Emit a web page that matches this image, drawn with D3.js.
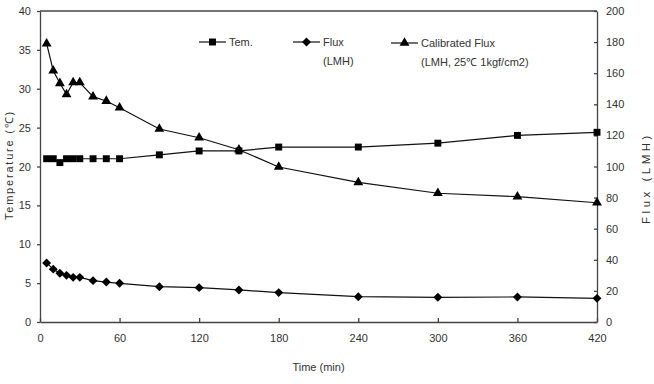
<!DOCTYPE html>
<html>
<head>
    <title>Temperature and Flux</title>
    <script src="https://d3js.org/d3.v7.min.js"></script>
    <style>
    body { margin: 0; background: #fff; }
    text { font-family: "Liberation Sans", Arial, sans-serif; fill: #333; }
    .axis path, .axis line { stroke: #444; stroke-width: 1.3; }
    .axis text { font-size: 11px; fill: #333; }
    </style>
</head>
<body>
<div id="chart"></div>
<script>
    // time points (min)
    var times = [5, 10, 15, 20, 25, 30, 40, 50, 60, 90, 120, 150, 180, 240, 300, 360, 420];
    // temperature (C), left axis
    var tem = [21, 21, 20.5, 21, 21, 21, 21, 21, 21, 21.5, 22, 22, 22.5, 22.5, 23, 24, 24.4];
    // flux (LMH), right axis
    var flux = [38, 34, 31.3, 30, 28.7, 28.7, 26.6, 25.7, 24.9, 22.7, 22.1, 20.6, 18.9, 16.3, 15.9, 16.1, 15.2];
    // calibrated flux (LMH, 25C 1kgf/cm2), right axis
    var calFlux = [179, 161.6, 153.5, 146.4, 154, 154, 144.9, 142.1, 137.8, 124.1, 118.5, 110.8, 99.7, 89.8, 82.8, 80.6, 76.7];

    var xTicks = [0, 60, 120, 180, 240, 300, 360, 420];
    var leftTicks = [0, 5, 10, 15, 20, 25, 30, 35, 40];
    var rightTicks = [0, 20, 40, 60, 80, 100, 120, 140, 160, 180, 200];

    var w = 654, h = 384;
    var pLeft = 40, pRight = 597, pTop = 11, pBottom = 322; // plot frame

    var svg = d3.select("#chart").append("svg")
        .attr("width", w)
        .attr("height", h);

    var x = d3.scaleLinear().domain([0, 420]).range([pLeft, pRight]);
    var yL = d3.scaleLinear().domain([0, 40]).range([pBottom, pTop]);
    var yR = d3.scaleLinear().domain([0, 200]).range([pBottom, pTop]);

    // top border
    svg.append("line")
        .attr("x1", pLeft).attr("x2", pRight)
        .attr("y1", pTop).attr("y2", pTop)
        .attr("stroke", "#444").attr("stroke-width", 1.3);

    svg.append("g").attr("class", "axis")
        .attr("transform", "translate(0," + pBottom + ")")
        .call(d3.axisBottom(x).tickValues(xTicks).tickSizeInner(-4).tickSizeOuter(0).tickPadding(12));

    svg.append("g").attr("class", "axis")
        .attr("transform", "translate(" + pLeft + ",0)")
        .call(d3.axisLeft(yL).tickValues(leftTicks).tickSizeInner(3).tickSizeOuter(0).tickPadding(6));

    svg.append("g").attr("class", "axis")
        .attr("transform", "translate(" + pRight + ",0)")
        .call(d3.axisRight(yR).tickValues(rightTicks).tickSizeInner(-3).tickSizeOuter(0).tickPadding(9));

    // axis titles
    svg.append("text")
        .attr("x", (pLeft + pRight) / 2).attr("y", 371)
        .attr("text-anchor", "middle")
        .style("font-size", "11px")
        .text("Time (min)");

    svg.append("text")
        .attr("transform", "translate(13,165) rotate(-90)")
        .attr("text-anchor", "middle")
        .style("font-size", "11px")
        .style("letter-spacing", "1.8px")
        .text("Temperature (\u2103)");

    svg.append("text")
        .attr("transform", "translate(650,178) rotate(-90)")
        .attr("text-anchor", "middle")
        .style("font-size", "11.5px")
        .style("letter-spacing", "3.5px")
        .text("Flux (LMH)");

    // diamond drawn as a square turned 45 degrees
    var diamond = {
        draw: function(ctx, size) {
            var r = Math.sqrt(size / 2);
            ctx.moveTo(0, -r); ctx.lineTo(r, 0); ctx.lineTo(0, r); ctx.lineTo(-r, 0); ctx.closePath();
        }
    };

    // series
    var series = [
        {vals: tem, y: yL, sym: d3.symbolSquare, size: 48},
        {vals: flux, y: yR, sym: diamond, size: 40},
        {vals: calFlux, y: yR, sym: d3.symbolTriangle, size: 42}
    ];

    series.forEach(function(s) {
        var pts = times.map(function(t, i) { return [t, s.vals[i]]; });
        svg.append("path")
            .datum(pts)
            .attr("fill", "none")
            .attr("stroke", "#111")
            .attr("stroke-width", 1.2)
            .attr("d", d3.line().x(function(d) { return x(d[0]); }).y(function(d) { return s.y(d[1]); }));
        svg.selectAll(null)
            .data(pts)
            .enter()
            .append("path")
            .attr("transform", function(d) { return "translate(" + x(d[0]) + "," + s.y(d[1]) + ")"; })
            .attr("d", d3.symbol().type(s.sym).size(s.size))
            .attr("fill", "#000");
    });

    // legend
    var legend = [
        {x: 199, y: 42, sym: d3.symbolSquare, size: 48, lines: ["Tem."]},
        {x: 293, y: 42, sym: diamond, size: 40, lines: ["Flux", "(LMH)"]},
        {x: 391, y: 43, sym: d3.symbolTriangle, size: 42, lines: ["Calibrated Flux", "(LMH, 25\u2103 1kgf/cm2)"]}
    ];
    legend.forEach(function(l) {
        svg.append("line")
            .attr("x1", l.x).attr("x2", l.x + 27)
            .attr("y1", l.y).attr("y2", l.y)
            .attr("stroke", "#111").attr("stroke-width", 1.2);
        svg.append("path")
            .attr("transform", "translate(" + (l.x + 13.5) + "," + l.y + ")")
            .attr("d", d3.symbol().type(l.sym).size(l.size))
            .attr("fill", "#000");
        l.lines.forEach(function(t, i) {
            svg.append("text")
                .attr("x", l.x + 30).attr("y", l.y + 4 + i * 19)
                .style("font-size", "11px")
                .text(t);
        });
    });
</script>
</body>
</html>
